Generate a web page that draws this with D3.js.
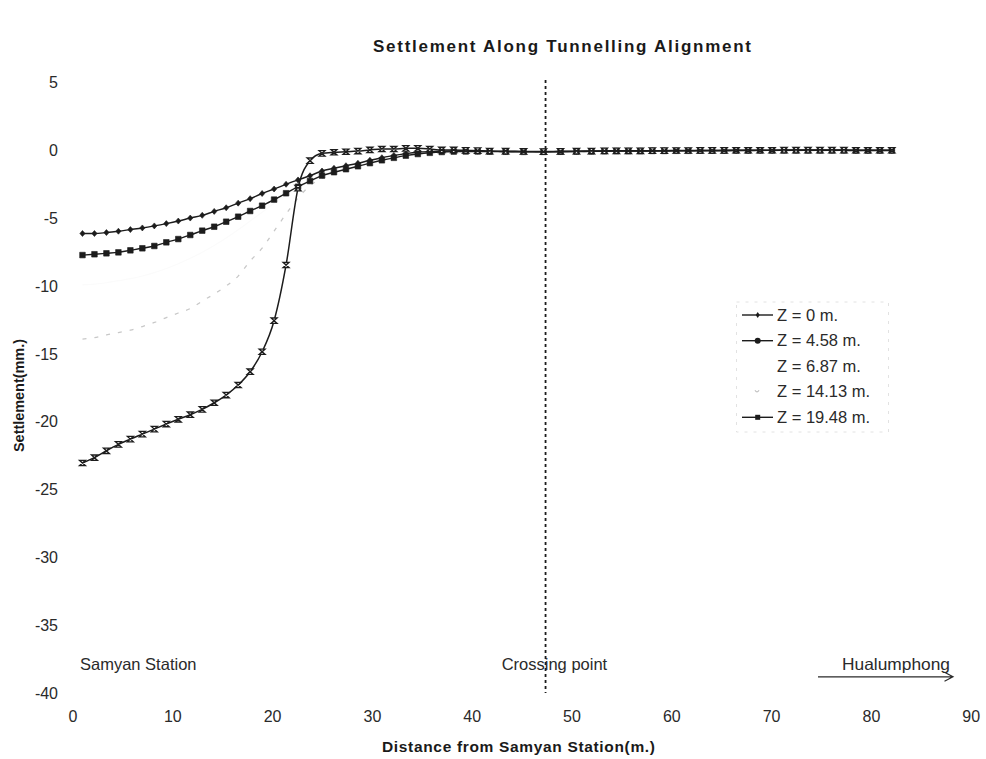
<!DOCTYPE html>
<html>
<head>
<meta charset="utf-8">
<script src="https://cdn.jsdelivr.net/npm/d3@7"></script>
<style>
  html, body { margin: 0; padding: 0; background: #ffffff; }
  svg { display: block; font-family: "Liberation Sans", Arial, sans-serif; }
</style>
</head>
<body>
<svg id="chart" width="986" height="759"></svg>
<script>
// Distance from Samyan Station (m.) at each survey point
const distance = [
  1.0, 2.2, 3.4, 4.6, 5.8, 7.0, 8.2, 9.4, 10.6, 11.8, 13.0, 14.2, 15.4, 16.6, 17.8,
  19.0, 20.2, 21.4, 22.6, 23.8, 25.0, 26.2, 27.4, 28.6, 29.8, 31.0, 32.2, 33.4, 34.6,
  35.8, 37.0, 38.2, 39.4, 40.6, 41.8,
  43.4, 45.2, 47.2, 48.9, 50.5, 52.0, 53.3, 54.5, 55.7,
  56.9, 58.1, 59.3, 60.5, 61.7, 62.9, 64.1, 65.3, 66.5, 67.7, 68.9, 70.1, 71.3, 72.5,
  73.7, 74.9, 76.1, 77.3, 78.5, 79.7, 80.9, 82.1
];

// Settlement (mm.) at each depth Z
const z0 = [
  -6.12, -6.12, -6.05, -5.95, -5.83, -5.71, -5.56, -5.39, -5.20, -4.98, -4.78, -4.49, -4.22, -3.88, -3.55,
  -3.17, -2.84, -2.49, -2.17, -1.86, -1.51, -1.31, -1.12, -0.94, -0.72, -0.53, -0.36, -0.23, -0.13,
  -0.08, -0.05, -0.04, -0.04, -0.05, -0.06,
  -0.07, -0.08, -0.09, -0.07, -0.06, -0.05, -0.04, -0.03, -0.03,
  -0.03, -0.02, -0.02, -0.01, -0.01, 0, 0, 0, 0.01, 0.01, 0.01, 0.01, 0.02, 0.02,
  0.02, 0.02, 0.02, 0.02, 0.01, 0.01, 0.01, 0.01
];
const z458 = [
  -7.71, -7.65, -7.58, -7.51, -7.36, -7.21, -7.04, -6.77, -6.53, -6.23, -5.91, -5.62, -5.25, -4.88, -4.46,
  -4.07, -3.62, -3.15, -2.67, -2.25, -1.85, -1.60, -1.38, -1.16, -0.93, -0.72, -0.54, -0.38, -0.26,
  -0.17, -0.11, -0.08, -0.07, -0.07, -0.08,
  -0.09, -0.10, -0.10, -0.09, -0.08, -0.06, -0.05, -0.04, -0.04,
  -0.04, -0.03, -0.03, -0.02, -0.02, -0.01, -0.01, 0, 0, 0, 0.01, 0.01, 0.01, 0.01,
  0.01, 0.01, 0.01, 0.01, 0, 0, 0, 0
];
const z687 = [
  -9.90, -9.85, -9.75, -9.60, -9.45, -9.25, -9.00, -8.70, -8.35, -7.95, -7.50, -7.00, -6.45, -5.85, -5.20,
  -4.55, -3.90, -3.25, -2.80, -2.30, -1.90, -1.60, -1.40, -1.20, -0.98, -0.78, -0.58, -0.42, -0.30,
  -0.20, -0.14, -0.10, -0.08, -0.08, -0.08,
  -0.09, -0.10, -0.10, -0.09, -0.08, -0.07, -0.06, -0.05, -0.05,
  -0.05, -0.04, -0.04, -0.03, -0.03, -0.02, -0.02, -0.01, -0.01, -0.01, 0, 0, 0, 0,
  0, 0, 0, 0, 0, 0, 0, 0
];
const z1413 = [
  -13.90, -13.80, -13.60, -13.42, -13.24, -12.98, -12.68, -12.32, -11.98, -11.65, -11.10, -10.58, -9.99, -9.26, -8.15,
  -7.20, -5.94, -4.68, -3.50, -2.60, -2.05, -1.75, -1.50, -1.25, -1.00, -0.80, -0.60, -0.45, -0.33,
  -0.24, -0.17, -0.12, -0.09, -0.08, -0.08,
  -0.09, -0.10, -0.10, -0.09, -0.08, -0.07, -0.06, -0.05, -0.05,
  -0.05, -0.04, -0.04, -0.03, -0.03, -0.02, -0.02, -0.01, -0.01, -0.01, 0, 0, 0, 0,
  0, 0, 0, 0, 0, 0, 0, 0
];
const z1948 = [
  -23.04, -22.65, -22.14, -21.67, -21.28, -20.91, -20.54, -20.17, -19.82, -19.48, -19.09, -18.60, -18.03, -17.29, -16.31,
  -14.84, -12.55, -8.44, -2.77, -0.75, -0.21, -0.13, -0.09, -0.04, 0.04, 0.11, 0.11, 0.16, 0.16,
  0.11, 0.04, 0.04, 0.01, -0.01, -0.04,
  -0.05, -0.07, -0.08, -0.06, -0.05, -0.04, -0.03, -0.02, -0.02,
  -0.02, -0.01, -0.01, 0, 0, 0.01, 0.01, 0.01, 0.02, 0.02, 0.02, 0.02, 0.03, 0.03,
  0.03, 0.03, 0.03, 0.03, 0.02, 0.02, 0.02, 0.02
];

const seriesLabels = ["Z = 0 m.", "Z = 4.58 m.", "Z = 6.87 m.", "Z = 14.13 m.", "Z = 19.48 m."];
const xTicks = [0, 10, 20, 30, 40, 50, 60, 70, 80, 90];
const yTicks = [5, 0, -5, -10, -15, -20, -25, -30, -35, -40];
const crossingPoint = 47.4;

const svg = d3.select("#chart");
const ink = "#1c1c1c";

const x = d3.scaleLinear().domain([0, 90]).range([72.5, 970.7]);
const y = d3.scaleLinear().domain([-40, 5]).range([693, 82.7]);

// Axes: labels only, no axis lines
const yAxis = svg.append("g")
  .attr("transform", `translate(${x(0)},0)`)
  .call(d3.axisLeft(y).tickValues(yTicks).tickSize(0).tickPadding(14.5).tickFormat(d => String(d)));
const xAxis = svg.append("g")
  .attr("transform", `translate(0,${y(-40)})`)
  .call(d3.axisBottom(x).tickValues(xTicks).tickSize(0).tickPadding(18).tickFormat(d => String(d)));
[yAxis, xAxis].forEach(g => {
  g.select(".domain").remove();
  g.selectAll("text")
    .attr("font-family", "'Liberation Sans', Arial, sans-serif")
    .attr("font-size", 16)
    .attr("fill", "#2a2a2a");
});

// Crossing point marker line
svg.append("line")
  .attr("x1", x(crossingPoint)).attr("x2", x(crossingPoint))
  .attr("y1", 80).attr("y2", y(-40))
  .attr("stroke", ink).attr("stroke-width", 1.8)
  .attr("stroke-dasharray", "3,3");

// Series definitions
const series = [
  { key: "z687",  values: z687,  color: "#fbfbfb", width: 1.2, dash: null,  marker: null },
  { key: "z1413", values: z1413, color: "#c8c8c8", width: 1.3, dash: "4,8", marker: null },
  { key: "z458",  values: z458,  color: ink, width: 1.4, dash: null, marker: "square" },
  { key: "z0",    values: z0,    color: ink, width: 1.4, dash: null, marker: "diamond" },
  { key: "z1948", values: z1948, color: ink, width: 1.5, dash: null, marker: "hourglass" }
];

const markerPath = {
  square: "M-2.8,-2.8H2.8V2.8H-2.8Z",
  diamond: "M0,-3L2.6,0L0,3L-2.6,0Z",
  hourglass: "M-3,-2.7H3L-3,2.7H3Z"
};

const line = d3.line()
  .x(d => x(d[0]))
  .y(d => y(d[1]))
  .curve(d3.curveMonotoneX);

series.forEach(s => {
  const pts = distance.map((dv, i) => [dv, s.values[i]]);
  const g = svg.append("g").attr("class", "series " + s.key);
  g.append("path")
    .datum(pts)
    .attr("d", line)
    .attr("fill", "none")
    .attr("stroke", s.color)
    .attr("stroke-width", s.width)
    .attr("stroke-dasharray", s.dash);
  if (s.marker) {
    g.selectAll("path.mk")
      .data(pts)
      .join("path")
      .attr("class", "mk")
      .attr("transform", d => `translate(${x(d[0])},${y(d[1])})`)
      .attr("d", markerPath[s.marker])
      .attr("fill", s.marker === "hourglass" ? "#ffffff" : ink)
      .attr("stroke", ink)
      .attr("stroke-width", s.marker === "hourglass" ? 1.3 : 0.6);
  }
});

// Legend
const legend = svg.append("g").attr("class", "legend");
legend.append("rect")
  .attr("x", 736.5).attr("y", 302).attr("width", 152).attr("height", 130)
  .attr("fill", "none").attr("stroke", "#e2e2e2").attr("stroke-width", 1)
  .attr("stroke-dasharray", "3,6");
const legendRows = [315, 340.7, 366, 391.7, 417.3];
legendRows.forEach((cy, i) => {
  const row = legend.append("g");
  if (i === 0 || i === 1 || i === 4) {
    row.append("line")
      .attr("x1", 742).attr("x2", 773).attr("y1", cy).attr("y2", cy)
      .attr("stroke", ink).attr("stroke-width", 1.4);
  }
  if (i === 0) {
    row.append("path").attr("transform", `translate(757.7,${cy})`)
      .attr("d", "M0,-3L2,0L0,3L-2,0Z").attr("fill", ink);
  } else if (i === 1) {
    row.append("circle").attr("cx", 757.7).attr("cy", cy).attr("r", 3).attr("fill", ink);
  } else if (i === 3) {
    row.append("path").attr("transform", `translate(757,${cy})`)
      .attr("d", "M-2,-1.5Q0,2 2,-1.5").attr("fill", "none")
      .attr("stroke", "#c2c2c2").attr("stroke-width", 1.2);
  } else if (i === 4) {
    row.append("rect").attr("x", 755.2).attr("y", cy - 2.5).attr("width", 5).attr("height", 5).attr("fill", ink);
  }
  row.append("text")
    .attr("x", 777).attr("y", cy + 5.7)
    .attr("font-size", 16.5).attr("fill", "#2a2a2a")
    .text(seriesLabels[i]);
});

// Location annotations
svg.append("text").attr("x", 80).attr("y", 670)
  .attr("font-size", 16.5).attr("fill", "#2a2a2a").text("Samyan Station");
svg.append("text").attr("x", 501.7).attr("y", 670)
  .attr("font-size", 16.5).attr("fill", "#2a2a2a").text("Crossing point");
svg.append("text").attr("x", 842).attr("y", 670)
  .attr("font-size", 16.5).attr("fill", "#2a2a2a")
  .attr("textLength", 108).attr("lengthAdjust", "spacingAndGlyphs").text("Hualumphong");
svg.append("path")
  .attr("d", "M818,676.8H953M944.5,672.3L953,676.8L944.5,681.3")
  .attr("fill", "none").attr("stroke", "#2a2a2a").attr("stroke-width", 1.2);

// Title and axis titles
svg.append("text")
  .attr("x", 373).attr("y", 52)
  .attr("font-size", 17).attr("font-weight", "bold").attr("fill", "#1a1a1a")
  .attr("textLength", 378).attr("lengthAdjust", "spacing")
  .text("Settlement Along Tunnelling Alignment");
svg.append("text")
  .attr("x", 382).attr("y", 752)
  .attr("font-size", 15.5).attr("font-weight", "bold").attr("fill", "#1a1a1a")
  .attr("textLength", 273).attr("lengthAdjust", "spacing")
  .text("Distance from Samyan Station(m.)");
svg.append("text")
  .attr("transform", "translate(24,452) rotate(-90)")
  .attr("x", 0).attr("y", 0)
  .attr("font-size", 14.5).attr("font-weight", "bold").attr("fill", "#1a1a1a")
  .attr("textLength", 113).attr("lengthAdjust", "spacing")
  .text("Settlement(mm.)");
</script>
</body>
</html>
